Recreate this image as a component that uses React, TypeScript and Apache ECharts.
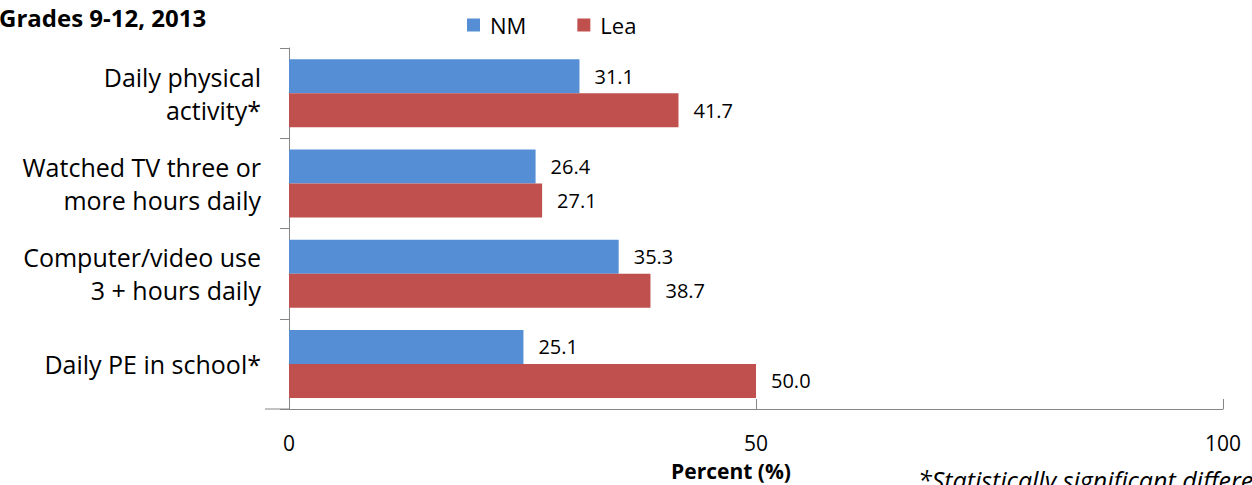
import React, { useEffect, useRef } from "react";
import * as echarts from "echarts";

const categories = [
  "Daily physical\nactivity*",
  "Watched TV three or\nmore hours daily",
  "Computer/video use\n3 + hours daily",
  "Daily PE in school*",
];
const nmValues = [31.1, 26.4, 35.3, 25.1];
const leaValues = [41.7, 27.1, 38.7, 50.0];
const xTicks = [0, 50, 100];

const FONT = "'Open Sans', 'Liberation Sans', sans-serif";

export default function App() {
  const ref = useRef<HTMLDivElement>(null);
  useEffect(() => {
    if (!ref.current) return;
    const chart = echarts.init(ref.current, undefined, { renderer: "svg" });
    const valueLabel = {
      show: true,
      position: "right" as const,
      distance: 15,
      color: "#000",
      fontFamily: FONT,
      fontSize: 20,
      formatter: (p: any) => Number(p.value).toFixed(1),
    };
    chart.setOption({
      animation: false,
      backgroundColor: "#fff",
      textStyle: { fontFamily: FONT },
      grid: { left: 289, right: 29, top: 48, bottom: 76, containLabel: false },
      legend: {
        left: 462,
        top: 9,
        itemWidth: 13,
        itemHeight: 13,
        itemGap: 51,
        icon: "rect",
        textStyle: {
          fontSize: 22,
          lineHeight: 22,
          color: "#000",
          fontFamily: FONT,
          padding: [0, 0, 0, 5],
        },
        data: ["NM", "Lea"],
      },
      xAxis: {
        type: "value",
        min: 0,
        max: 100,
        interval: 50,
        axisLine: { show: true, lineStyle: { color: "#868686", width: 1 } },
        axisTick: { show: true, inside: true, length: 10, lineStyle: { color: "#868686" } },
        splitLine: { show: false },
        axisLabel: {
          margin: 23,
          fontSize: 21,
          color: "#000",
          fontFamily: FONT,
          formatter: (v: number) => (xTicks.includes(v) ? String(v) : ""),
        },
      },
      yAxis: {
        type: "category",
        inverse: true,
        data: categories,
        axisLine: { show: true, lineStyle: { color: "#868686", width: 1 } },
        axisTick: { show: true, length: 9, lineStyle: { color: "#868686" } },
        axisLabel: {
          margin: 28,
          fontSize: 25,
          lineHeight: 33,
          color: "#000",
          fontFamily: FONT,
          align: "right",
        },
      },
      series: [
        {
          name: "NM",
          type: "bar",
          data: nmValues,
          barWidth: 34,
          barGap: "0%",
          itemStyle: { color: "#558ED5" },
          label: valueLabel,
        },
        {
          name: "Lea",
          type: "bar",
          data: leaValues,
          barWidth: 34,
          barGap: "0%",
          itemStyle: { color: "#C0504D" },
          label: valueLabel,
        },
      ],
      graphic: [
        {
          type: "text",
          left: -1,
          top: 5,
          style: {
            text: "Grades 9-12, 2013",
            fontSize: 24,
            fontWeight: "bold",
            fill: "#000",
            fontFamily: FONT,
          },
        },
        {
          type: "line",
          shape: { x1: 265, y1: 409, x2: 289, y2: 409 },
          style: { stroke: "#868686", lineWidth: 1 },
        },
        {
          type: "text",
          x: 731,
          y: 471,
          style: {
            text: "Percent (%)",
            fontSize: 21,
            fontWeight: "bold",
            fill: "#000",
            fontFamily: FONT,
            align: "center",
            verticalAlign: "middle",
          },
        },
        {
          type: "text",
          left: 918,
          top: 467,
          style: {
            text: "*Statistically significant difference",
            fontSize: 25,
            fontStyle: "italic",
            fill: "#000",
            fontFamily: FONT,
          },
        },
      ],
    });
    return () => chart.dispose();
  }, []);
  return (
    <div
      ref={ref}
      style={{ position: "fixed", left: 0, top: 0, width: 1252, height: 485 }}
    />
  );
}
